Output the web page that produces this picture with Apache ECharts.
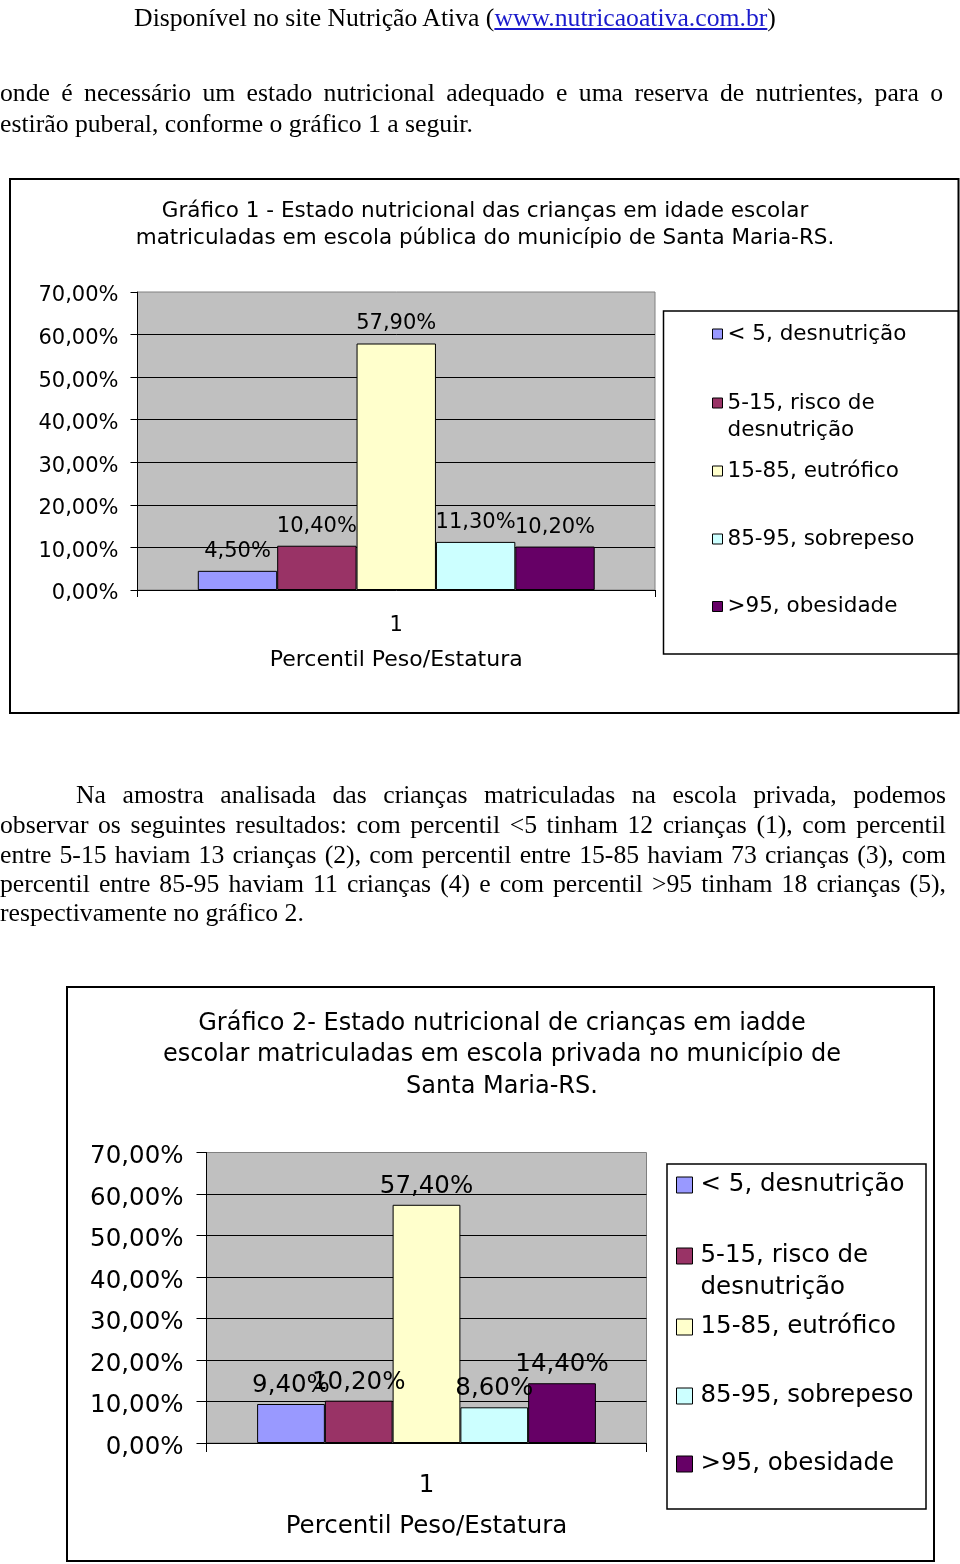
<!DOCTYPE html>
<html>
<head>
<meta charset="utf-8">
<script src="https://cdn.jsdelivr.net/npm/echarts@6/dist/echarts.min.js"></script>
<style>
html,body{margin:0;padding:0;background:#fff;}
#page{position:relative;width:960px;height:1564px;overflow:hidden;background:#fff;}
#chart{position:absolute;left:0;top:0;width:960px;height:1564px;}
.ln{position:absolute;font-family:"Liberation Serif","Times New Roman",serif;font-size:25.7px;line-height:30px;height:30px;white-space:nowrap;color:#000;}
.j{text-align:justify;text-align-last:justify;}
a{color:#1a1acc;text-decoration:underline;}
</style>
</head>
<body>
<div id="page">
  <div id="chart"></div>
  <div class="ln" style="left:0;width:910px;top:3px;text-align:center;">Disponível no site Nutrição Ativa (<a>www.nutricaoativa.com.br</a>)</div>

  <div class="ln j" style="left:0;width:943px;top:78px;">onde é necessário um estado nutricional adequado e uma reserva de nutrientes, para o</div>
  <div class="ln" style="left:0;top:109px;">estirão puberal, conforme o gráfico 1 a seguir.</div>

  <div class="ln j" style="left:76px;width:870px;top:780px;">Na amostra analisada das crianças matriculadas na escola privada, podemos</div>
  <div class="ln j" style="left:0;width:946px;top:810px;">observar os seguintes resultados: com percentil &lt;5 tinham 12 crianças (1), com percentil</div>
  <div class="ln j" style="left:0;width:946px;top:840px;">entre 5-15 haviam 13 crianças (2), com percentil entre 15-85 haviam 73 crianças (3), com</div>
  <div class="ln j" style="left:0;width:946px;top:869px;">percentil entre 85-95 haviam 11 crianças (4) e com percentil &gt;95 tinham 18 crianças (5),</div>
  <div class="ln" style="left:0;top:898px;">respectivamente no gráfico 2.</div>
</div>
<script>
// ---------- data ----------
const categories = ['1'];
const seriesNames = ['< 5, desnutrição', '5-15, risco de desnutrição', '15-85, eutrófico', '85-95, sobrepeso', '>95, obesidade'];
const legendLabels = ['< 5, desnutrição', '5-15, risco de\ndesnutrição', '15-85, eutrófico', '85-95, sobrepeso', '>95, obesidade'];
const publicSchoolValues = [4.5, 10.4, 57.9, 11.3, 10.2];
const privateSchoolValues = [9.4, 10.2, 57.4, 8.6, 14.4];
const yMin = 0;
const yMax = 70;
const yInterval = 10;
const title1 = 'Gráfico 1 - Estado nutricional das crianças em idade escolar\nmatriculadas em escola pública do município de Santa Maria-RS.';
const title2 = 'Gráfico 2- Estado nutricional de crianças em iadde\nescolar matriculadas em escola privada no município de\nSanta Maria-RS.';
const xAxisName = 'Percentil Peso/Estatura';

// ---------- styles ----------
const seriesColors = ['#9999FF', '#993366', '#FFFFCC', '#CCFFFF', '#660066'];
const FONT = '"DejaVu Sans", "Liberation Sans", sans-serif';

function pct(v) { return Number(v).toFixed(2).replace('.', ',') + '%'; }

const layouts = [
  { gl: 137.5, gt: 292, gw: 517.5, gh: 298, fs: 21, nfs: 22, yt: 7, ylm: 19, ypad: 8, xt: 7, xlm: 25, ng: 59, ld: 9, bcg: '23.3%',
    lgl: 712, iw: 10, tp: 0, lfs: 21.5, llh: 27, lc: [334, 403, 471, 539, 606.5],
    tx: 485, ty: 198, tfs: 21.5, tlh: 27 },
  { gl: 206.5, gt: 1152.5, gw: 440, gh: 290.5, fs: 24.5, nfs: 24.5, yt: 10, ylm: 23, ypad: 9, xt: 9, xlm: 30, ng: 71, ld: 6, bcg: '23%',
    lgl: 676, iw: 16, tp: 3, lfs: 24.5, llh: 32, lc: [1185, 1256, 1327, 1396, 1464],
    tx: 502, ty: 1008, tfs: 24, tlh: 31.5 }
];
const datasets = [publicSchoolValues, privateSchoolValues];
const titles = [title1, title2];

const option = {
  animation: false,
  backgroundColor: 'transparent',
  title: [], grid: [], xAxis: [], yAxis: [], series: [], legend: [],
  graphic: [
    { type: 'rect', silent: true, shape: { x: 10, y: 179, width: 948.5, height: 534 }, style: { fill: 'none', stroke: '#000', lineWidth: 2 } },
    { type: 'rect', silent: true, shape: { x: 663.5, y: 311, width: 295, height: 343 }, style: { fill: 'none', stroke: '#000', lineWidth: 1.5 } },
    { type: 'rect', silent: true, shape: { x: 67, y: 987, width: 867, height: 574 }, style: { fill: 'none', stroke: '#000', lineWidth: 2 } },
    { type: 'rect', silent: true, shape: { x: 667, y: 1164, width: 259, height: 345 }, style: { fill: 'none', stroke: '#000', lineWidth: 1.5 } }
  ]
};

layouts.forEach((L, idx) => {
  option.title.push({
    text: titles[idx], left: L.tx, top: L.ty, textAlign: 'center', padding: 0,
    textStyle: { fontFamily: FONT, fontSize: L.tfs, fontWeight: 'normal', lineHeight: L.tlh, color: '#000' }
  });
  option.grid.push({
    left: L.gl, top: L.gt, width: L.gw, height: L.gh, show: true,
    backgroundColor: '#C0C0C0', borderColor: '#808080', borderWidth: 1
  });
  option.xAxis.push({
    gridIndex: idx, type: 'category', data: categories,
    axisLine: { show: true, lineStyle: { color: '#000', width: 1 } },
    axisTick: { show: true, length: L.xt, lineStyle: { color: '#000', width: 1 } },
    axisLabel: { fontFamily: FONT, fontSize: L.fs, color: '#000', margin: L.xlm },
    splitLine: { show: false },
    name: xAxisName, nameLocation: 'middle', nameGap: L.ng,
    nameTextStyle: { fontFamily: FONT, fontSize: L.nfs, color: '#000' }
  });
  option.yAxis.push({
    gridIndex: idx, type: 'value', min: yMin, max: yMax, interval: yInterval,
    axisLine: { show: true, lineStyle: { color: '#000', width: 1 } },
    axisTick: { show: true, length: L.yt, lineStyle: { color: '#000', width: 1 } },
    axisLabel: {
      fontFamily: FONT, fontSize: L.fs, color: '#000', margin: L.ylm,
      formatter: v => '{v|' + pct(v) + '}',
      rich: { v: { fontFamily: FONT, fontSize: L.fs, color: '#000', padding: [L.ypad, 0, 0, 0] } }
    },
    splitLine: { show: true, showMinLine: false, showMaxLine: false, lineStyle: { color: '#000', width: 1 } }
  });
  seriesNames.forEach((name, i) => {
    option.series.push({
      type: 'bar', name: name, xAxisIndex: idx, yAxisIndex: idx,
      data: [datasets[idx][i]],
      barGap: '0%', barCategoryGap: L.bcg,
      itemStyle: { color: seriesColors[i], borderColor: '#000', borderWidth: 1 },
      label: { show: true, position: 'top', distance: L.ld, formatter: p => pct(p.value),
               fontFamily: FONT, fontSize: L.fs, color: '#000' },
      emphasis: { disabled: true }
    });
    const twoLine = legendLabels[i].indexOf('\n') >= 0;
    option.legend.push({
      data: [name], orient: 'vertical', left: L.lgl,
      top: L.lc[i] - (twoLine ? 1.5 * L.llh : 0.5 * L.llh),
      padding: 0, itemWidth: L.iw, itemHeight: L.iw, icon: 'rect', selectedMode: false,
      itemStyle: { color: seriesColors[i], borderColor: '#000', borderWidth: 1 },
      // a leading empty line keeps the icon level with the first text line of a two-line entry
      formatter: () => (twoLine ? '\n' : '') + legendLabels[i],
      textStyle: { fontFamily: FONT, fontSize: L.lfs, color: '#000', lineHeight: L.llh, padding: [0, 0, 0, L.tp] }
    });
  });
});

const chart = echarts.init(document.getElementById('chart'), null, { renderer: 'canvas', width: 960, height: 1564 });
chart.setOption(option);
</script>
</body>
</html>
